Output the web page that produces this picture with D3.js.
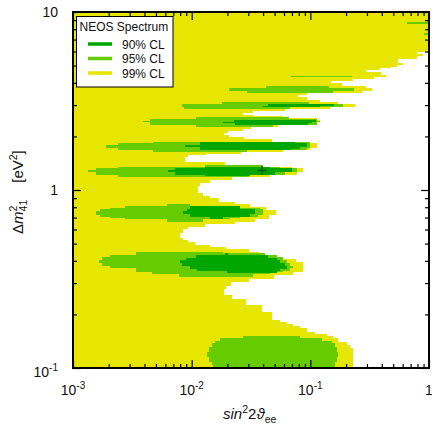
<!DOCTYPE html>
<html>
<head>
<meta charset="utf-8">
<script src="https://cdn.jsdelivr.net/npm/d3@7"></script>
<style>
  body { margin: 0; background: #fff; }
  svg { display: block; font-family: "Liberation Sans", Arial, Helvetica, sans-serif; }
</style>
</head>
<body>
<div id="chart"></div>
<script>
// ===== data (Δm² in eV², sin²2θ) =====
// left edge of the excluded (white) region, row by row from the top: [dm2, sin2]
const whiteEdge = [
  [10, 1], [5.96, 0.792], [5.81, 0.890], [5.66, 0.792], [5.45, 0.548], [5.17, 0.604],
  [5.04, 0.537], [4.91, 0.478], [4.85, 0.386], [4.72, 0.294], [4.60, 0.394], [4.43, 0.434],
  [4.31, 0.344], [4.20, 0.229], [4.10, 0.149], [3.99, 0.185], [3.84, 0.294], [3.74, 0.331],
  [3.60, 0.272], [3.51, 0.0937], [3.42, 0.0787], [3.33, 0.0937], [3.20, 0.121], [3.12, 0.171],
  [3.04, 0.238], [2.93, 0.146], [2.85, 0.0612], [2.78, 0.0329], [2.71, 0.0271], [2.64, 0.0329],
  [2.60, 0.0588], [2.54, 0.114], [2.47, 0.121], [2.41, 0.114], [2.32, 0.0534], [2.26, 0.0316],
  [2.20, 0.0271], [2.15, 0.0202], [2.09, 0.0187], [2.04, 0.0206], [1.99, 0.0276], [1.93, 0.0475],
  [1.86, 0.0993], [1.84, 0.114], [1.72, 0.0993], [1.68, 0.0588], [1.64, 0.0260], [1.59, 0.0132],
  [1.57, 0.00931], [1.53, 0.00879], [1.44, 0.0191], [1.38, 0.0399], [1.35, 0.0701], [1.33, 0.0867],
  [1.26, 0.0772], [1.21, 0.0457], [1.18, 0.0219], [1.14, 0.0143], [1.09, 0.0118], [1.05, 0.0113],
  [0.962, 0.0125], [0.925, 0.0143], [0.902, 0.0170], [0.856, 0.0232], [0.834, 0.0310], [0.803, 0.0423],
  [0.772, 0.0514], [0.724, 0.0448], [0.687, 0.0342], [0.661, 0.0232], [0.644, 0.0130], [0.620, 0.00931],
  [0.604, 0.00845], [0.573, 0.00797], [0.538, 0.00845], [0.524, 0.00931], [0.510, 0.0107], [0.491, 0.0143],
  [0.478, 0.0195], [0.466, 0.0304], [0.448, 0.0369], [0.431, 0.0466], [0.410, 0.0757], [0.394, 0.0867],
  [0.346, 0.0714], [0.333, 0.0494], [0.316, 0.0304], [0.304, 0.0215], [0.289, 0.0195], [0.278, 0.0187],
  [0.257, 0.0219], [0.244, 0.0287], [0.226, 0.0392], [0.206, 0.0475], [0.186, 0.0555], [0.181, 0.0636],
  [0.177, 0.0715], [0.172, 0.0818], [0.168, 0.0937], [0.159, 0.1095], [0.155, 0.138], [0.151, 0.155],
  [0.147, 0.171], [0.140, 0.204], [0.135, 0.216], [0.130, 0.229], [0.1, 0.229]
];

// 95% CL islands, rows from the top: [dm2, sin2 left, sin2 right] (last row = bottom edge)
const cl95 = [
  [[8.79, 0.653, 0.981], [8.56, 0.653, 0.981]],
  [[7.62, 0.908, 1], [7.43, 0.908, 1]],
  [[4.39, 0.0687, 0.224], [4.32, 0.0687, 0.224]],
  [[3.84, 0.0423, 0.1436], [3.74, 0.0206, 0.2333], [3.60, 0.0293, 0.1552], [3.51, 0.0293, 0.1552]],
  [[3.12, 0.0180, 0.0975], [3.04, 0.00829, 0.1885], [2.93, 0.00862, 0.0674], [2.85, 0.00862, 0.0674]],
  [[2.57, 0.01088, 0.0661], [2.49, 0.00446, 0.1138], [2.44, 0.00389, 0.1206], [2.41, 0.00446, 0.1138],
   [2.32, 0.01088, 0.0485], [2.26, 0.01088, 0.0485]],
  [[1.86, 0.00472, 0.0994], [1.84, 0.00239, 0.0994], [1.79, 0.00190, 0.0994], [1.73, 0.00239, 0.0937],
   [1.68, 0.00472, 0.0293], [1.635, 0.00472, 0.0293]],
  [[1.373, 0.0130, 0.0399], [1.347, 0.00239, 0.0555], [1.329, 0.00156, 0.0772], [1.295, 0.00134, 0.0772],
   [1.262, 0.00156, 0.0612], [1.214, 0.00239, 0.0304], [1.183, 0.00239, 0.0304]],
  [[0.834, 0.00620, 0.00968], [0.813, 0.00274, 0.0255], [0.792, 0.00205, 0.0377], [0.782, 0.00169, 0.0399],
   [0.762, 0.00156, 0.0399], [0.724, 0.00169, 0.0362], [0.705, 0.00205, 0.0255], [0.696, 0.00274, 0.0210],
   [0.687, 0.00620, 0.0125], [0.665, 0.00620, 0.0125]],
  [[0.448, 0.00340, 0.0184], [0.440, 0.00340, 0.0415], [0.431, 0.00205, 0.0524], [0.420, 0.00176, 0.0588],
   [0.404, 0.00166, 0.0636], [0.389, 0.00176, 0.0674], [0.374, 0.00205, 0.0715], [0.365, 0.00340, 0.0674],
   [0.351, 0.00340, 0.0588], [0.344, 0.00463, 0.0457], [0.337, 0.00782, 0.0329], [0.324, 0.00782, 0.0329]],
  [[0.1513, 0.0271, 0.0818], [0.1474, 0.0173, 0.1254], [0.1418, 0.0157, 0.1522], [0.1381, 0.0148, 0.1614],
   [0.1312, 0.0140, 0.1678], [0.1230, 0.0135, 0.1711], [0.1153, 0.0140, 0.1678], [0.1081, 0.0148, 0.1614],
   [0.1039, 0.0151, 0.1614], [0.1, 0.0151, 0.1614]]
];

// 90% CL islands
const cl90 = [
  [[3.04, 0.0440, 0.1583], [2.964, 0.0399, 0.1206], [2.908, 0.0399, 0.1206]],
  [[2.473, 0.0227, 0.1116], [2.410, 0.0184, 0.1033], [2.379, 0.0232, 0.0956], [2.318, 0.0232, 0.0956]],
  [[1.860, 0.01176, 0.0743], [1.825, 0.01176, 0.0937], [1.789, 0.00879, 0.0937], [1.733, 0.01176, 0.0818],
   [1.699, 0.01176, 0.0687], [1.678, 0.01176, 0.0687]],
  [[1.347, 0.01295, 0.0457], [1.329, 0.00724, 0.0701], [1.295, 0.00632, 0.0701], [1.262, 0.00724, 0.0504],
   [1.222, 0.01295, 0.0310], [1.198, 0.01295, 0.0310]],
  [[0.808, 0.00968, 0.0255], [0.782, 0.00914, 0.0342], [0.762, 0.00845, 0.0342], [0.733, 0.00968, 0.0310],
   [0.705, 0.01427, 0.0184], [0.687, 0.01427, 0.0184]],
  [[0.443, 0.0191, 0.0202], [0.431, 0.01088, 0.0440], [0.415, 0.00896, 0.0524], [0.404, 0.00797, 0.0555],
   [0.389, 0.00829, 0.0612], [0.374, 0.00968, 0.0636], [0.360, 0.01109, 0.0555], [0.351, 0.01985, 0.0524],
   [0.342, 0.01985, 0.0524]]
];

const bestFit = [0.0392, 1.287];

const xTicks = [1e-3, 1e-2, 1e-1, 1];
const xTickLabels = [["10", "-3"], ["10", "-2"], ["10", "-1"], ["1", ""]];
const yTicks = [0.1, 1, 10];
const yTickLabels = [["10", "-1"], ["1", ""], ["10", ""]];

const legendTitle = "NEOS Spectrum";
const legendItems = ["90% CL", "95% CL", "99% CL"];

// ===== settings =====
const W = 432, H = 425;
const MARGIN = { top: 12, right: 3, bottom: 57, left: 73 };
const innerW = W - MARGIN.left - MARGIN.right;
const innerH = H - MARGIN.top - MARGIN.bottom;
const COL = { c99: "#e6e600", c95: "#66cc00", c90: "#00a600" };

const svg = d3.select("#chart").append("svg").attr("width", W).attr("height", H);
const g = svg.append("g").attr("transform", `translate(${MARGIN.left},${MARGIN.top})`);

const x = d3.scaleLog().domain([1e-3, 1]).range([0, innerW]);
const y = d3.scaleLog().domain([0.1, 10]).range([innerH, 0]);

svg.append("defs").append("clipPath").attr("id", "plotclip")
  .append("rect").attr("width", innerW).attr("height", innerH);

const plot = g.append("g").attr("clip-path", "url(#plotclip)").attr("shape-rendering", "crispEdges");

// 99% background
plot.append("rect").attr("width", innerW).attr("height", innerH).attr("fill", COL.c99);

// rows -> bands
function bands(arr) {
  const out = [];
  for (let i = 0; i < arr.length - 1; i++) {
    out.push({ top: arr[i][0], bot: arr[i + 1][0], lo: arr[i][1], hi: arr[i].length > 2 ? arr[i][2] : 1 });
  }
  return out;
}

function drawBands(rows, color) {
  plot.append("g").selectAll("rect")
    .data(rows)
    .join("rect")
    .attr("x", d => x(d.lo))
    .attr("y", d => y(d.top))
    .attr("width", d => Math.max(0, x(d.hi) - x(d.lo)))
    .attr("height", d => y(d.bot) - y(d.top))
    .attr("fill", color);
}

drawBands(bands(whiteEdge), "#fff");
cl95.forEach(isl => drawBands(bands(isl), COL.c95));
cl90.forEach(isl => drawBands(bands(isl), COL.c90));

// best fit marker
const bx = x(bestFit[0]), by = y(bestFit[1]);
const mk = g.append("g").attr("stroke", "#0b5d0b").attr("stroke-width", 1.6);
mk.append("line").attr("x1", bx - 4.5).attr("x2", bx + 4.5).attr("y1", by).attr("y2", by);
mk.append("line").attr("x1", bx).attr("x2", bx).attr("y1", by - 4.5).attr("y2", by + 4.5);

// ===== axes =====
function minorTicks(lo, hi) {
  const t = [];
  for (let d = lo; d < hi; d *= 10) for (let k = 2; k <= 9; k++) t.push(d * k);
  return t;
}
const xMinor = minorTicks(1e-3, 1);
const yMinor = minorTicks(0.1, 10);

function tickAxis(axisFn, scale, vals, size, transform) {
  const a = g.append("g").attr("transform", transform)
    .call(axisFn(scale).tickValues(vals).tickSizeInner(size).tickSizeOuter(0).tickFormat(""));
  a.select(".domain").remove();
  a.selectAll("line").attr("stroke", "#000").attr("stroke-width", 1.2);
}
tickAxis(d3.axisBottom, x, xMinor, -4, `translate(0,${innerH})`);
tickAxis(d3.axisBottom, x, xTicks, -8, `translate(0,${innerH})`);
tickAxis(d3.axisTop, x, xMinor, -4, "translate(0,0)");
tickAxis(d3.axisTop, x, xTicks, -8, "translate(0,0)");
tickAxis(d3.axisLeft, y, yMinor, -4, "translate(0,0)");
tickAxis(d3.axisLeft, y, yTicks, -8, "translate(0,0)");
tickAxis(d3.axisRight, y, yMinor, -4, `translate(${innerW},0)`);
tickAxis(d3.axisRight, y, yTicks, -8, `translate(${innerW},0)`);

// frame
g.append("rect").attr("width", innerW).attr("height", innerH)
  .attr("fill", "none").attr("stroke", "#000").attr("stroke-width", 2);

// tick labels
const xl = g.append("g").selectAll("text").data(xTicks).join("text")
  .attr("x", d => x(d)).attr("y", innerH + 27)
  .attr("text-anchor", "middle").attr("font-size", 14).attr("fill", "#111");
xl.append("tspan").text((d, i) => xTickLabels[i][0]);
xl.append("tspan").attr("dy", -6).attr("font-size", 10).text((d, i) => xTickLabels[i][1]);

const yl = g.append("g").selectAll("text").data(yTicks).join("text")
  .attr("x", -15).attr("y", (d, i) => y(d) + (yTickLabels[i][1] ? 9 : 5))
  .attr("text-anchor", "end").attr("font-size", 14).attr("fill", "#111");
yl.append("tspan").text((d, i) => yTickLabels[i][0]);
yl.append("tspan").attr("dy", -6).attr("font-size", 10).text((d, i) => yTickLabels[i][1]);

// axis titles
const xt = svg.append("text").attr("x", 223).attr("y", 419).attr("font-size", 15).attr("fill", "#111");
xt.append("tspan").attr("font-style", "italic").text("sin");
xt.append("tspan").attr("dy", -6).attr("font-size", 10.5).text("2");
xt.append("tspan").attr("dy", 6).text("2");
xt.append("tspan").attr("font-style", "italic").text("ϑ");
xt.append("tspan").attr("dy", 4).attr("font-size", 10.5).text("ee");

const yt = svg.append("text").attr("transform", "translate(23,234) rotate(-90)")
  .attr("font-size", 15).attr("fill", "#111");
yt.append("tspan").text("Δ");
yt.append("tspan").attr("font-style", "italic").text("m");
yt.append("tspan").attr("dy", -6).attr("font-size", 10.5).text("2");
yt.append("tspan").attr("dx", -5.8).attr("dy", 10).attr("font-size", 10.5).text("41");
yt.append("tspan").attr("dx", 17).attr("dy", -4).text("[eV");
yt.append("tspan").attr("dy", -6).attr("font-size", 10.5).text("2");
yt.append("tspan").attr("dy", 6).text("]");

// ===== legend =====
const lg = svg.append("g");
lg.append("rect").attr("x", 76.5).attr("y", 16.5).attr("width", 96.5).attr("height", 70.5)
  .attr("fill", "#fff").attr("stroke", "#000").attr("stroke-width", 1);
lg.append("text").attr("x", 79.5).attr("y", 31).attr("font-size", 12).attr("fill", "#111").text(legendTitle);
const lcols = [COL.c90, COL.c95, COL.c99];
legendItems.forEach((t, i) => {
  const yy = 44 + i * 14.5;
  lg.append("line").attr("x1", 88).attr("x2", 112).attr("y1", yy).attr("y2", yy)
    .attr("stroke", lcols[i]).attr("stroke-width", 3.5);
  lg.append("text").attr("x", 122).attr("y", yy + 4.5).attr("font-size", 12).attr("fill", "#111").text(t);
});
</script>
</body>
</html>
